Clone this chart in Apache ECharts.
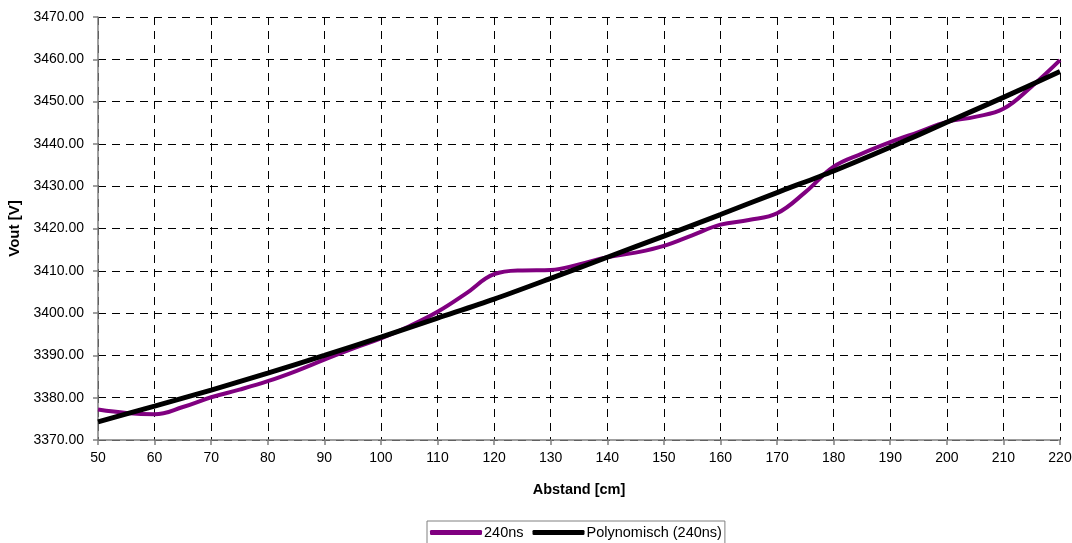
<!DOCTYPE html>
<html>
<head>
<meta charset="utf-8">
<script src="https://cdn.jsdelivr.net/npm/echarts@6/dist/echarts.min.js"></script>
<style>html,body{margin:0;padding:0;background:#fff}#c{width:1072px;height:543px}</style>
</head>
<body>
<div id="c"></div>
<script>
const xMeasured = [50,55,60,65,70,75,80,85,90,95,100,105,110,115,120,125,130,135,140,145,150,155,160,165,170,175,180,185,190,195,200,205,210,215,220];
const series240ns = [3377.2,3376.4,3376.1,3377.8,3380.1,3381.9,3383.9,3386.3,3389.0,3391.6,3394.0,3396.9,3400.3,3404.6,3409.2,3410.1,3410.2,3411.5,3413.2,3414.3,3415.9,3418.4,3420.9,3422.0,3423.6,3428.6,3434.6,3437.7,3440.4,3442.8,3445.2,3446.4,3448.3,3453.6,3459.8];
const xTrend = [50,60,70,80,90,100,110,120,130,140,150,160,170,180,190,200,210,220];
const seriesTrend = [3374.3,3378.0,3381.8,3385.8,3390.0,3394.3,3398.8,3403.3,3408.2,3413.2,3418.2,3423.3,3428.5,3433.6,3439.2,3445.1,3451.0,3457.1];
const seriesNames = ['240ns','Polynomisch (240ns)'];
const xTitle = 'Abstand [cm]';
const yTitle = 'Vout [V]';

const chart = echarts.init(document.getElementById('c'), null, {renderer:'canvas'});
const font = 'Liberation Sans, Arial, sans-serif';
chart.setOption({
  animation:false,
  backgroundColor:'#fff',
  grid:{left:98,right:12,top:17,bottom:103,containLabel:false,outerBoundsMode:'none'},
  xAxis:{
    type:'value',min:50,max:220,interval:10,
    name:xTitle,nameLocation:'middle',nameGap:42,
    nameTextStyle:{fontFamily:font,fontWeight:'bold',fontSize:14.5,color:'#000'},
    axisLine:{lineStyle:{color:'#808080',width:1.5}},
    axisTick:{show:true,length:5,lineStyle:{color:'#808080',width:1.5}},
    axisLabel:{fontFamily:font,fontSize:14,color:'#000',margin:11},
    splitLine:{show:true,lineStyle:{color:'#000',type:[8,6],width:1}}
  },
  yAxis:{
    type:'value',min:3370,max:3470,interval:10,
    name:yTitle,nameLocation:'middle',nameGap:70,nameRotate:90,
    nameTextStyle:{fontFamily:font,fontWeight:'bold',fontSize:15,color:'#000'},
    axisLine:{show:true,lineStyle:{color:'#808080',width:1.5}},
    axisTick:{show:true,length:5,lineStyle:{color:'#808080',width:1.5}},
    axisLabel:{fontFamily:font,fontSize:14,color:'#000',margin:14,formatter:v=>v.toFixed(2)},
    splitLine:{show:true,lineStyle:{color:'#000',type:[8,6],width:1}}
  },
  legend:{
    left:427,top:521,orient:'horizontal',
    padding:[4,3,20,3],
    borderColor:'#808080',borderWidth:1,
    itemWidth:52,itemHeight:5,itemGap:9,
    icon:'roundRect',
    textStyle:{fontFamily:font,fontSize:14.5,color:'#000',padding:[0,0,0,-3]},
    data:seriesNames
  },
  series:[
    {name:seriesNames[0],type:'line',data:xMeasured.map((x,i)=>[x,series240ns[i]]),
     smooth:0.4,showSymbol:false,lineStyle:{color:'#800080',width:4},itemStyle:{color:'#800080'},z:2},
    {name:seriesNames[1],type:'line',data:xTrend.map((x,i)=>[x,seriesTrend[i]]),
     smooth:0.3,showSymbol:false,lineStyle:{color:'#000',width:5},itemStyle:{color:'#000'},z:3}
  ]
});
</script>
</body>
</html>
